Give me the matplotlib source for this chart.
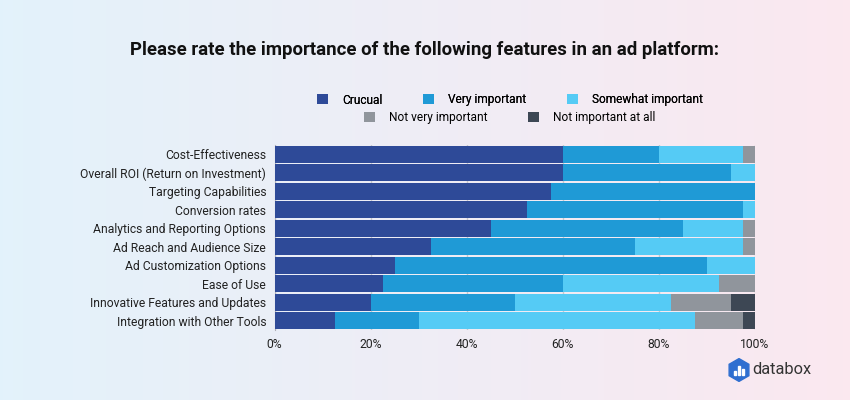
import matplotlib.pyplot as plt
import numpy as np
from matplotlib.patches import RegularPolygon, Rectangle

plt.rcParams["font.family"] = ["Roboto", "DejaVu Sans"]

features = [
    "Cost-Effectiveness",
    "Overall ROI (Return on Investment)",
    "Targeting Capabilities",
    "Conversion rates",
    "Analytics and Reporting Options",
    "Ad Reach and Audience Size",
    "Ad Customization Options",
    "Ease of Use",
    "Innovative Features and Updates",
    "Integration with Other Tools",
]
crucial = [60, 60, 57.5, 52.5, 45, 32.5, 25, 22.5, 20, 12.5]
very_important = [20, 35, 42.5, 45, 40, 42.5, 65, 37.5, 30, 17.5]
somewhat_important = [17.5, 5, 0, 2.5, 12.5, 22.5, 10, 32.5, 32.5, 57.5]
not_very_important = [2.5, 0, 0, 0, 2.5, 2.5, 0, 7.5, 12.5, 10]
not_important_at_all = [0, 0, 0, 0, 0, 0, 0, 0, 5, 2.5]

series = [
    ("Crucual", crucial, "#2e4a98"),
    ("Very important", very_important, "#1f9ad6"),
    ("Somewhat important", somewhat_important, "#55cbf5"),
    ("Not very important", not_very_important, "#90959c"),
    ("Not important at all", not_important_at_all, "#3d4754"),
]

fig = plt.figure(figsize=(8.5, 4), dpi=100)

# background gradient (light blue -> light pink)
bg = fig.add_axes([0, 0, 1, 1], zorder=-10)
left_c = np.array([0.89, 0.95, 0.985])
right_c = np.array([0.985, 0.91, 0.94])
t = np.linspace(0, 1, 256)
grad = left_c[None, :] * (1 - t[:, None]) + right_c[None, :] * t[:, None]
bg.imshow(grad[None, :, :], aspect="auto", extent=[0, 1, 0, 1])
bg.axis("off")

ax = fig.add_axes([274.5 / 850, 1 - 330 / 400, (755 - 274.5) / 850, 185 / 400])
ax.patch.set_alpha(0)

y = np.arange(len(features))
left = np.zeros(len(features))
handles = []
for name, vals, color in series:
    vals = np.array(vals, dtype=float)
    h = ax.barh(y, vals, left=left, height=0.92, color=color, label=name, zorder=3)
    handles.append(h)
    left += vals

ax.set_xlim(0, 100)
ax.set_ylim(len(features) - 0.5, -0.5)
ax.set_yticks(y)
ax.set_yticklabels(features, fontsize=8.7, color="#222222")
ax.set_xticks([0, 20, 40, 60, 80, 100])
ax.set_xticklabels(["0%", "20%", "40%", "60%", "80%", "100%"], fontsize=8.7, color="#222222")
ax.tick_params(axis="both", length=0, pad=6)
ax.grid(axis="x", color="#c8c8cc", linewidth=1, zorder=0)
for s in ["top", "right", "bottom"]:
    ax.spines[s].set_visible(False)
ax.spines["left"].set_color("#b0b0b8")

fig.text(0.5, 1 - 50 / 400, "Please rate the importance of the following features in an ad platform:",
         ha="center", va="center", fontsize=13.4, fontweight="bold", color="#111111")

leg_kw = dict(loc="center", frameon=False, fontsize=8.6, handlelength=0.9,
              handleheight=0.9, columnspacing=3.4, handletextpad=1.2)
leg1 = fig.legend(handles[:3], [s[0] for s in series[:3]],
                  bbox_to_anchor=(510 / 850, 1 - 100 / 400), ncol=3, **leg_kw)
fig.add_artist(leg1)
fig.legend(handles[3:], [s[0] for s in series[3:]],
           bbox_to_anchor=(510 / 850, 1 - 118 / 400), ncol=2, **leg_kw)

# databox logo
lax = fig.add_axes([727 / 850, 1 - 382 / 400, 24 / 850, 24 / 400])
lax.set_xlim(-1, 1)
lax.set_ylim(-1, 1)
lax.set_aspect("equal")
lax.axis("off")
lax.add_patch(RegularPolygon((0, 0), 6, radius=0.95, orientation=0, color="#2f6fd0"))
for bx, bh in [(-0.32, 0.35), (0.0, 0.75), (0.32, 0.5)]:
    lax.add_patch(Rectangle((bx - 0.09, -0.42), 0.18, bh, color="white"))
fig.text(752 / 850, 1 - 370 / 400, "databox", ha="left", va="center",
         fontsize=11.8, color="#333333")

fig.savefig("out.png", dpi=100)
